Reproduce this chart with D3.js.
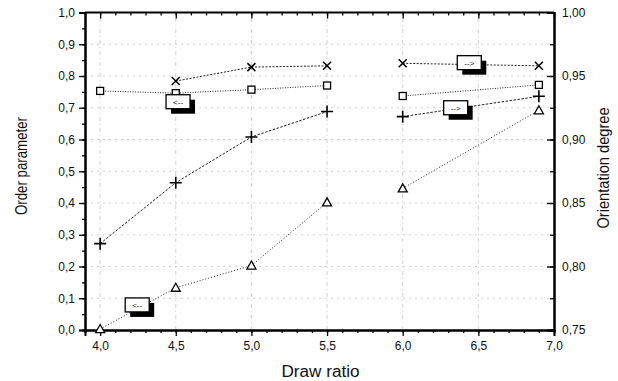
<!DOCTYPE html>
<html>
<head>
<meta charset="utf-8">
<script src="https://cdn.jsdelivr.net/npm/d3@7"></script>
<style>
  body { margin: 0; background: #fff; }
  text { font-family: "Liberation Sans", Arial, sans-serif; fill: #111; }
</style>
</head>
<body>
<script>
// draw ratio values
var ratios = [4.0, 4.5, 5.0, 5.5, 6.0, 6.9];
var ratiosX = [4.5, 5.0, 5.5, 6.0, 6.9];

// order parameter (left axis)
var squares   = [0.753, 0.746, 0.757, 0.770, 0.737, 0.772];
var triangles = [0.003, 0.133, 0.203, 0.402, 0.446, 0.692];

// orientation degree (right axis)
var crosses = [0.818, 0.866, 0.902, 0.922, 0.918, 0.934];
var xmarks  = [0.946, 0.957, 0.958, 0.960, 0.958];

// the measurements were done in two runs
var breakAfter = 5.5;

// little arrow boxes pointing to the axis of each curve
var notes = [
  {x: 4.515, y: 0.719, axis: "left",  text: "<--"},
  {x: 4.245, y: 0.079, axis: "left",  text: "<--"},
  {x: 6.44,  y: 0.9605, axis: "right", text: "-->"},
  {x: 6.35,  y: 0.925, axis: "right", text: "-->"}
];

var leftTicks = d3.range(0, 1.0001, 0.1);
var rightTicks = [0.75, 0.80, 0.85, 0.90, 0.95, 1.00];
var xTicks = [4.0, 4.5, 5.0, 5.5, 6.0, 6.5, 7.0];

var width = 618, height = 381;
var m = {left: 85, right: 64, top: 12.5, bottom: 51};

var loc = d3.formatLocale({decimal: ",", thousands: ".", grouping: [3], currency: ["", ""]});
var f1 = loc.format(".1f"), f2 = loc.format(".2f");

var x = d3.scaleLinear().domain([3.9, 7.0]).range([m.left, width - m.right]);
var yL = d3.scaleLinear().domain([0, 1]).range([height - m.bottom, m.top]);
var yR = d3.scaleLinear().domain([0.75, 1.0]).range([height - m.bottom, m.top]);

var svg = d3.select("body").append("svg")
  .attr("width", width)
  .attr("height", height);

// grid
var grid = svg.append("g").attr("stroke", "#c4c4c4").attr("stroke-width", 0.8);
grid.selectAll("line.v")
  .data(xTicks.slice(0, -1))
  .enter().append("line")
  .attr("x1", d => x(d)).attr("x2", d => x(d))
  .attr("y1", yL(0)).attr("y2", yL(1))
  .attr("stroke-dasharray", "4,3,1,3");
grid.selectAll("line.h")
  .data(leftTicks.slice(1, -1))
  .enter().append("line")
  .attr("y1", d => yL(d)).attr("y2", d => yL(d))
  .attr("x1", x(3.9)).attr("x2", x(7.0))
  .attr("stroke-dasharray", "2,4");

// axes
var minorX = d3.range(3.9, 7.0001, 0.1);
var bottom = svg.append("g").attr("transform", "translate(0," + yL(0) + ")")
  .call(d3.axisBottom(x).tickValues(minorX).tickSize(3).tickFormat(""));
bottom.append("g")
  .call(d3.axisBottom(x).tickValues(xTicks).tickSize(6).tickPadding(5).tickFormat(f1));

svg.append("g").attr("transform", "translate(0," + yL(1) + ")")
  .call(d3.axisBottom(x).tickValues(minorX).tickSize(3).tickFormat(""))
  .call(g => g.append("g").call(d3.axisBottom(x).tickValues(xTicks).tickSize(6).tickFormat("")))
  .selectAll(".domain").remove();
svg.append("line")
  .attr("x1", x(3.9)).attr("x2", x(7.0))
  .attr("y1", yL(1)).attr("y2", yL(1))
  .attr("stroke", "#000").attr("stroke-width", 2);

var left = svg.append("g").attr("transform", "translate(" + x(3.9) + ",0)")
  .call(d3.axisLeft(yL).tickValues(d3.range(0, 1.0001, 0.05)).tickSize(3).tickFormat(""));
left.append("g")
  .call(d3.axisLeft(yL).tickValues(leftTicks).tickSize(6).tickPadding(4).tickFormat(f1));

var right = svg.append("g").attr("transform", "translate(" + x(7.0) + ",0)")
  .call(d3.axisLeft(yR).tickValues(d3.range(0.75, 1.0001, 0.025)).tickSize(4).tickFormat(""));
right.append("g")
  .call(d3.axisLeft(yR).tickValues(rightTicks).tickSize(7).tickFormat(""));
right.append("g")
  .call(d3.axisRight(yR).tickValues(rightTicks).tickSize(0).tickPadding(8).tickFormat(f2))
  .select(".domain").remove();

svg.selectAll(".domain").attr("stroke-width", 2);
svg.selectAll(".tick line").attr("stroke-width", 1.3);
svg.selectAll(".tick text").style("font-size", "12px").attr("fill", "#111");

// axis titles
svg.append("text")
  .attr("x", (x(3.9) + x(7.0)) / 2 + 1).attr("y", 377)
  .attr("text-anchor", "middle")
  .style("font-size", "16px")
  .attr("textLength", 78).attr("lengthAdjust", "spacingAndGlyphs")
  .text("Draw ratio");
svg.append("text")
  .attr("transform", "translate(27,166) rotate(-90)")
  .attr("text-anchor", "middle")
  .style("font-size", "16px")
  .attr("textLength", 98).attr("lengthAdjust", "spacingAndGlyphs")
  .text("Order parameter");
svg.append("text")
  .attr("transform", "translate(609,168) rotate(-90)")
  .attr("text-anchor", "middle")
  .style("font-size", "16px")
  .attr("textLength", 121).attr("lengthAdjust", "spacingAndGlyphs")
  .text("Orientation degree");

// series
var series = [
  {xs: ratios,  ys: squares,   scale: yL, dash: "1,1.5", shape: "square"},
  {xs: ratiosX, ys: xmarks,    scale: yR, dash: "2,1.5", shape: "x"},
  {xs: ratios,  ys: crosses,   scale: yR, dash: "2.5,1.5", shape: "plus"},
  {xs: ratios,  ys: triangles, scale: yL, dash: "1,2", shape: "triangle"}
];

var line = d3.line().x(d => x(d[0]));

series.forEach(function(s) {
  var pts = s.xs.map((d, i) => [d, s.ys[i]]);
  var runs = [pts.filter(p => p[0] <= breakAfter), pts.filter(p => p[0] > breakAfter)];
  line.y(d => s.scale(d[1]));
  svg.append("g").selectAll("path")
    .data(runs)
    .enter().append("path")
    .attr("d", line)
    .attr("fill", "none")
    .attr("stroke", "#222")
    .attr("stroke-width", 1)
    .attr("stroke-dasharray", s.dash);

  var mk = svg.append("g").selectAll("g")
    .data(pts)
    .enter().append("g")
    .attr("transform", d => "translate(" + x(d[0]) + "," + s.scale(d[1]) + ")");
  if (s.shape == "square") {
    mk.append("rect").attr("x", -3.5).attr("y", -3.5).attr("width", 7).attr("height", 7)
      .attr("fill", "#fff").attr("stroke", "#000").attr("stroke-width", 1.3);
  } else if (s.shape == "triangle") {
    mk.append("path").attr("d", "M0,-4.5L4.5,3.5L-4.5,3.5Z")
      .attr("fill", "#fff").attr("stroke", "#000").attr("stroke-width", 1.3);
  } else if (s.shape == "x") {
    mk.append("path").attr("d", "M-4,-4L4,4M-4,4L4,-4")
      .attr("stroke", "#000").attr("stroke-width", 1.5);
  } else {
    mk.append("path").attr("d", "M-6,0L6,0M0,-6L0,6")
      .attr("stroke", "#000").attr("stroke-width", 1.6);
  }
});

// arrow boxes
var box = svg.append("g").selectAll("g")
  .data(notes)
  .enter().append("g")
  .attr("transform", d => "translate(" + x(d.x) + "," + (d.axis == "left" ? yL(d.y) : yR(d.y)) + ")");
box.append("rect").attr("x", -7).attr("y", -2).attr("width", 24).attr("height", 14).attr("fill", "#000");
box.append("rect").attr("x", -12).attr("y", -7).attr("width", 24).attr("height", 14)
  .attr("fill", "#fff").attr("stroke", "#000").attr("stroke-width", 1.3);
box.append("text")
  .attr("y", 3)
  .attr("text-anchor", "middle")
  .style("font-size", "8px")
  .text(d => d.text);
</script>
</body>
</html>
